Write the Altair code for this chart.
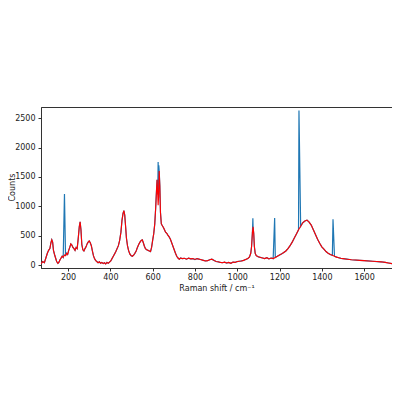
import altair as alt
import pandas as pd

# Red (spike-removed) spectrum
red_x = [72, 80, 88, 95, 102, 108, 114, 119, 123, 127, 131, 136, 141, 146, 152, 157, 162, 167, 172, 177,
         183, 188, 193, 198, 203, 208, 213, 218, 223, 228, 233, 238, 243, 248, 253, 257, 261, 265, 270, 275,
         280, 285, 290, 295, 300, 305, 310, 315, 320, 325, 330, 336, 342, 348, 354, 360, 366, 372, 378, 384,
         390, 396, 402, 408, 414, 420, 426, 432, 438, 444, 450, 455, 460, 464, 468, 472, 476, 481, 486, 492,
         498, 504, 510, 516, 522, 528, 534, 540, 546, 551, 556, 561, 566, 572, 578, 584, 590, 595, 600, 605,
         610, 614, 618, 621, 624, 626, 628, 631, 634, 637, 641, 646, 651, 656, 661, 667, 672, 678, 684, 690,
         696, 702, 708, 714, 720, 726, 732, 740, 750, 760, 770, 780, 790, 800, 810, 820, 830, 840, 850, 860,
         870, 880, 890, 900, 910, 920, 930, 940, 950, 960, 970, 980, 990, 1000, 1010, 1020, 1030, 1040, 1050, 1058,
         1064, 1068, 1072, 1075, 1078, 1081, 1085, 1090, 1095, 1100, 1110, 1120, 1130, 1140, 1150, 1160, 1170, 1180, 1190, 1200,
         1210, 1220, 1230, 1240, 1250, 1260, 1270, 1280, 1290, 1300, 1310, 1320, 1330, 1340, 1350, 1360, 1370, 1380, 1390, 1400,
         1410, 1420, 1430, 1440, 1450, 1460, 1470, 1480, 1490, 1500, 1520, 1540, 1560, 1580, 1600, 1620, 1640, 1660, 1680, 1700,
         1715, 1732]
red_y = [20, 60, 40, 120, 200, 250, 280, 380, 430, 390, 250, 180, 120, 60, 30, 50, 90, 120, 150, 130,
         170, 160, 200, 180, 250, 300, 360, 340, 300, 280, 250, 300, 280, 450, 650, 735, 600, 350, 260, 240,
         280, 310, 360, 390, 410, 380, 330, 240, 160, 110, 80, 60, 40, 55, 30, 45, 25, 40, 20, 45,
         30, 50, 70, 110, 150, 190, 230, 280, 330, 420, 560, 760, 880, 925, 850, 660, 460, 330, 250, 190,
         160, 150, 170, 200, 240, 300, 350, 390, 420, 430, 380, 320, 280, 260, 250, 240, 230, 300, 420, 530,
         700, 950, 1250, 1450, 1200, 1020, 1150, 1600, 1350, 900, 700, 670, 640, 600, 560, 540, 510, 480, 440, 380,
         320, 260, 200, 150, 120, 100, 120, 110, 115, 100, 118, 105, 110, 95, 110, 100, 90, 80, 70, 75,
         90, 100, 80, 60, 55, 45, 40, 50, 35, 45, 30, 50, 45, 60, 65, 70, 80, 95, 110, 140,
         200, 320, 560, 650, 540, 320, 200, 160, 150, 140, 130, 120, 110, 125, 105, 120, 110, 130, 150, 170,
         190, 215, 240, 280, 330, 390, 460, 530, 600, 660, 720, 750, 765, 730, 680, 600, 520, 440, 370, 310,
         270, 230, 200, 180, 165, 150, 135, 125, 115, 110, 100, 90, 85, 80, 75, 70, 65, 60, 55, 45,
         35, 25]

# Blue (raw) spectrum: identical to red except at cosmic-ray spikes
spike_x = [183, 626, 629, 1074, 1177, 1292, 1453]
spike_y = [1210, 1755, 1700, 795, 800, 2630, 780]

blue_map = dict(zip(red_x, red_y))
for sx, sy in zip(spike_x, spike_y):
    blue_map[sx] = sy
blue_x = sorted(blue_map)
blue_y = [blue_map[k] for k in blue_x]

df_blue = pd.DataFrame({"shift": blue_x, "counts": blue_y})
df_red = pd.DataFrame({"shift": red_x, "counts": red_y})

x_enc = alt.X("shift:Q", scale=alt.Scale(domain=[72, 1732], nice=False, zero=False),
              axis=alt.Axis(values=[200, 400, 600, 800, 1000, 1200, 1400, 1600], format="d",
                            title="Raman shift / cm⁻¹", grid=False))
y_enc = alt.Y("counts:Q", scale=alt.Scale(domain=[-50, 2690], nice=False, zero=False),
              axis=alt.Axis(values=[0, 500, 1000, 1500, 2000, 2500], format="d",
                            title="Counts", grid=False, titleX=-29, titleY=80,
                            titleAngle=270, titleAlign="center", titleBaseline="middle"))

blue = alt.Chart(df_blue).mark_line(color="#1f77b4", strokeWidth=1.2, clip=True).encode(
    x=x_enc, y=y_enc)
red = alt.Chart(df_red).mark_line(color="#ff0000", strokeWidth=1.1, clip=True).encode(
    x=x_enc, y=y_enc)

chart = alt.layer(blue, red).properties(
    width=351, height=161,
    autosize=alt.AutoSizeParams(type="none"),
    padding={"left": 33, "top": 99, "right": 0, "bottom": 50},
).configure_view(stroke="#333333", strokeWidth=1).configure_axis(
    labelFont="DejaVu Sans", titleFont="DejaVu Sans", labelFontSize=8, titleFontSize=8,
    titleFontWeight="normal", labelColor="#222222", titleColor="#222222",
    domainColor="#333333", tickColor="#333333", tickSize=3, labelPadding=2,
).configure_axisY(labelPadding=3).configure_axisX(titlePadding=3)

chart.save("out.html", embed_options={"renderer": "svg", "actions": False})
